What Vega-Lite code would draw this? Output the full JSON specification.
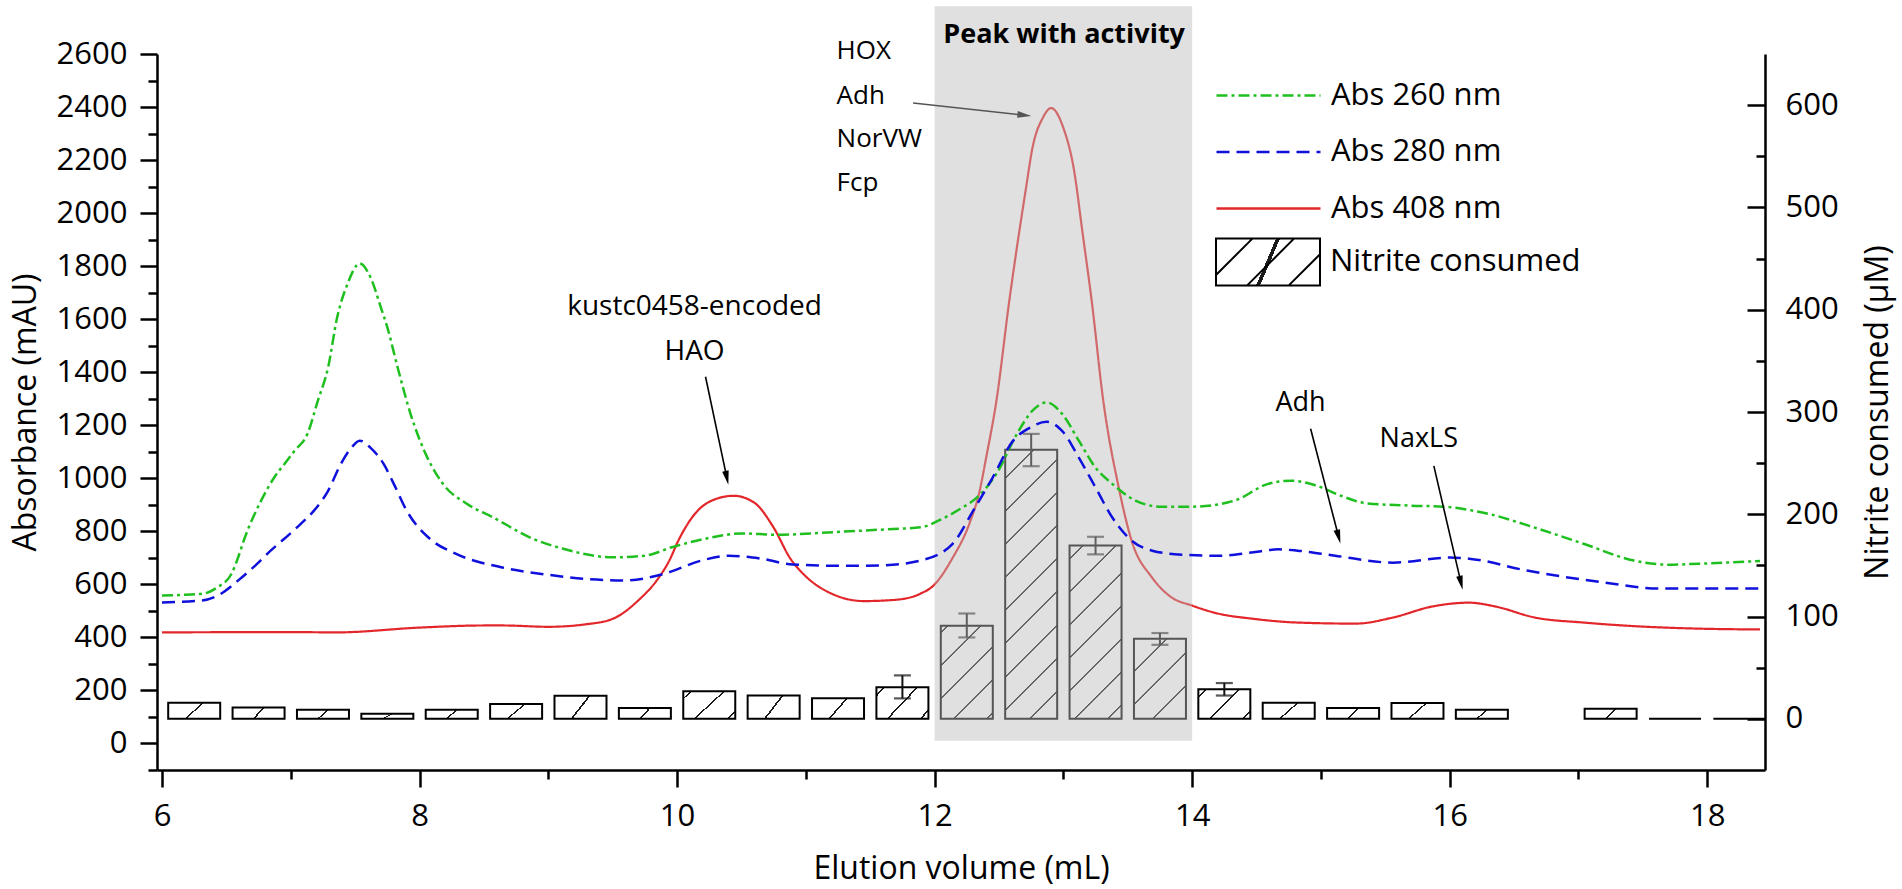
{
  "$schema": "https://vega.github.io/schema/vega-lite/v6.json",
  "description": "Size-exclusion elution profile with nitrite consumption bars",
  "width": 1608,
  "height": 716,
  "autosize": {"type": "none"},
  "padding": {"left": 157, "top": 54, "right": 137, "bottom": 119},
  "background": "white",
  "config": {
    "font": "Open Sans",
    "view": {"stroke": null},
    "axis": {
      "grid": false,
      "labelFont": "Open Sans",
      "labelFontSize": 31,
      "labelColor": "#000",
      "titleFont": "Open Sans",
      "titleFontSize": 32,
      "titleFontWeight": "normal",
      "titleColor": "#000",
      "domainColor": "#000",
      "domainWidth": 2.5,
      "tickColor": "#000",
      "tickWidth": 2.5,
      "labelOverlap": false,
      "labelFlush": false,
      "labelBound": false
    },
    "legend": {"labelFont": "Open Sans", "labelFontSize": 31, "labelColor": "#000", "labelLimit": 0}
  },
  "datasets": {
    "abs": [
      {"v": 6.0, "a": 558, "s": "Abs 260 nm"},
      {"v": 6.15, "a": 560, "s": "Abs 260 nm"},
      {"v": 6.33, "a": 566, "s": "Abs 260 nm"},
      {"v": 6.43, "a": 589, "s": "Abs 260 nm"},
      {"v": 6.54, "a": 640, "s": "Abs 260 nm"},
      {"v": 6.59, "a": 700, "s": "Abs 260 nm"},
      {"v": 6.64, "a": 772, "s": "Abs 260 nm"},
      {"v": 6.77, "a": 916, "s": "Abs 260 nm"},
      {"v": 6.87, "a": 1002, "s": "Abs 260 nm"},
      {"v": 6.96, "a": 1060, "s": "Abs 260 nm"},
      {"v": 7.03, "a": 1104, "s": "Abs 260 nm"},
      {"v": 7.13, "a": 1168, "s": "Abs 260 nm"},
      {"v": 7.21, "a": 1292, "s": "Abs 260 nm"},
      {"v": 7.29, "a": 1418, "s": "Abs 260 nm"},
      {"v": 7.36, "a": 1606, "s": "Abs 260 nm"},
      {"v": 7.44, "a": 1732, "s": "Abs 260 nm"},
      {"v": 7.535, "a": 1810, "s": "Abs 260 nm"},
      {"v": 7.62, "a": 1757, "s": "Abs 260 nm"},
      {"v": 7.7, "a": 1644, "s": "Abs 260 nm"},
      {"v": 7.75, "a": 1569, "s": "Abs 260 nm"},
      {"v": 7.83, "a": 1418, "s": "Abs 260 nm"},
      {"v": 7.93, "a": 1243, "s": "Abs 260 nm"},
      {"v": 8.06, "a": 1079, "s": "Abs 260 nm"},
      {"v": 8.18, "a": 980, "s": "Abs 260 nm"},
      {"v": 8.37, "a": 903, "s": "Abs 260 nm"},
      {"v": 8.57, "a": 853, "s": "Abs 260 nm"},
      {"v": 8.88, "a": 772, "s": "Abs 260 nm"},
      {"v": 9.11, "a": 735, "s": "Abs 260 nm"},
      {"v": 9.5, "a": 702, "s": "Abs 260 nm"},
      {"v": 9.75, "a": 708, "s": "Abs 260 nm"},
      {"v": 9.96, "a": 740, "s": "Abs 260 nm"},
      {"v": 10.27, "a": 777, "s": "Abs 260 nm"},
      {"v": 10.5, "a": 792, "s": "Abs 260 nm"},
      {"v": 10.78, "a": 787, "s": "Abs 260 nm"},
      {"v": 11.17, "a": 796, "s": "Abs 260 nm"},
      {"v": 11.68, "a": 809, "s": "Abs 260 nm"},
      {"v": 11.89, "a": 815, "s": "Abs 260 nm"},
      {"v": 12.05, "a": 845, "s": "Abs 260 nm"},
      {"v": 12.2, "a": 885, "s": "Abs 260 nm"},
      {"v": 12.33, "a": 928, "s": "Abs 260 nm"},
      {"v": 12.48, "a": 1017, "s": "Abs 260 nm"},
      {"v": 12.64, "a": 1168, "s": "Abs 260 nm"},
      {"v": 12.76, "a": 1255, "s": "Abs 260 nm"},
      {"v": 12.87, "a": 1286, "s": "Abs 260 nm"},
      {"v": 12.99, "a": 1243, "s": "Abs 260 nm"},
      {"v": 13.12, "a": 1142, "s": "Abs 260 nm"},
      {"v": 13.25, "a": 1040, "s": "Abs 260 nm"},
      {"v": 13.38, "a": 979, "s": "Abs 260 nm"},
      {"v": 13.56, "a": 916, "s": "Abs 260 nm"},
      {"v": 13.76, "a": 893, "s": "Abs 260 nm"},
      {"v": 14.0, "a": 893, "s": "Abs 260 nm"},
      {"v": 14.33, "a": 916, "s": "Abs 260 nm"},
      {"v": 14.59, "a": 979, "s": "Abs 260 nm"},
      {"v": 14.77, "a": 991, "s": "Abs 260 nm"},
      {"v": 14.95, "a": 975, "s": "Abs 260 nm"},
      {"v": 15.15, "a": 935, "s": "Abs 260 nm"},
      {"v": 15.35, "a": 906, "s": "Abs 260 nm"},
      {"v": 15.7, "a": 897, "s": "Abs 260 nm"},
      {"v": 15.95, "a": 893, "s": "Abs 260 nm"},
      {"v": 16.3, "a": 866, "s": "Abs 260 nm"},
      {"v": 16.66, "a": 814, "s": "Abs 260 nm"},
      {"v": 17.04, "a": 753, "s": "Abs 260 nm"},
      {"v": 17.43, "a": 690, "s": "Abs 260 nm"},
      {"v": 17.7, "a": 674, "s": "Abs 260 nm"},
      {"v": 17.94, "a": 678, "s": "Abs 260 nm"},
      {"v": 18.41, "a": 688, "s": "Abs 260 nm"},
      {"v": 6.0, "a": 532, "s": "Abs 280 nm"},
      {"v": 6.31, "a": 539, "s": "Abs 280 nm"},
      {"v": 6.46, "a": 565, "s": "Abs 280 nm"},
      {"v": 6.59, "a": 614, "s": "Abs 280 nm"},
      {"v": 6.74, "a": 678, "s": "Abs 280 nm"},
      {"v": 6.85, "a": 730, "s": "Abs 280 nm"},
      {"v": 6.95, "a": 772, "s": "Abs 280 nm"},
      {"v": 7.08, "a": 829, "s": "Abs 280 nm"},
      {"v": 7.18, "a": 878, "s": "Abs 280 nm"},
      {"v": 7.29, "a": 953, "s": "Abs 280 nm"},
      {"v": 7.39, "a": 1055, "s": "Abs 280 nm"},
      {"v": 7.47, "a": 1115, "s": "Abs 280 nm"},
      {"v": 7.535, "a": 1142, "s": "Abs 280 nm"},
      {"v": 7.62, "a": 1115, "s": "Abs 280 nm"},
      {"v": 7.72, "a": 1055, "s": "Abs 280 nm"},
      {"v": 7.8, "a": 979, "s": "Abs 280 nm"},
      {"v": 7.9, "a": 878, "s": "Abs 280 nm"},
      {"v": 8.08, "a": 772, "s": "Abs 280 nm"},
      {"v": 8.28, "a": 716, "s": "Abs 280 nm"},
      {"v": 8.65, "a": 663, "s": "Abs 280 nm"},
      {"v": 9.0, "a": 636, "s": "Abs 280 nm"},
      {"v": 9.3, "a": 620, "s": "Abs 280 nm"},
      {"v": 9.6, "a": 615, "s": "Abs 280 nm"},
      {"v": 9.9, "a": 640, "s": "Abs 280 nm"},
      {"v": 10.19, "a": 690, "s": "Abs 280 nm"},
      {"v": 10.4, "a": 708, "s": "Abs 280 nm"},
      {"v": 10.65, "a": 697, "s": "Abs 280 nm"},
      {"v": 10.9, "a": 675, "s": "Abs 280 nm"},
      {"v": 11.3, "a": 670, "s": "Abs 280 nm"},
      {"v": 11.6, "a": 672, "s": "Abs 280 nm"},
      {"v": 11.89, "a": 690, "s": "Abs 280 nm"},
      {"v": 12.14, "a": 753, "s": "Abs 280 nm"},
      {"v": 12.3, "a": 878, "s": "Abs 280 nm"},
      {"v": 12.45, "a": 1002, "s": "Abs 280 nm"},
      {"v": 12.61, "a": 1142, "s": "Abs 280 nm"},
      {"v": 12.74, "a": 1191, "s": "Abs 280 nm"},
      {"v": 12.87, "a": 1213, "s": "Abs 280 nm"},
      {"v": 12.99, "a": 1179, "s": "Abs 280 nm"},
      {"v": 13.12, "a": 1078, "s": "Abs 280 nm"},
      {"v": 13.25, "a": 965, "s": "Abs 280 nm"},
      {"v": 13.38, "a": 852, "s": "Abs 280 nm"},
      {"v": 13.53, "a": 765, "s": "Abs 280 nm"},
      {"v": 13.69, "a": 727, "s": "Abs 280 nm"},
      {"v": 13.92, "a": 712, "s": "Abs 280 nm"},
      {"v": 14.2, "a": 708, "s": "Abs 280 nm"},
      {"v": 14.46, "a": 720, "s": "Abs 280 nm"},
      {"v": 14.67, "a": 732, "s": "Abs 280 nm"},
      {"v": 14.82, "a": 727, "s": "Abs 280 nm"},
      {"v": 15.11, "a": 708, "s": "Abs 280 nm"},
      {"v": 15.56, "a": 682, "s": "Abs 280 nm"},
      {"v": 16.0, "a": 701, "s": "Abs 280 nm"},
      {"v": 16.15, "a": 697, "s": "Abs 280 nm"},
      {"v": 16.6, "a": 652, "s": "Abs 280 nm"},
      {"v": 17.2, "a": 607, "s": "Abs 280 nm"},
      {"v": 17.64, "a": 584, "s": "Abs 280 nm"},
      {"v": 18.41, "a": 584, "s": "Abs 280 nm"},
      {"v": 6.0, "a": 419, "s": "Abs 408 nm"},
      {"v": 7.0, "a": 420, "s": "Abs 408 nm"},
      {"v": 7.36, "a": 419, "s": "Abs 408 nm"},
      {"v": 8.0, "a": 437, "s": "Abs 408 nm"},
      {"v": 8.5, "a": 445, "s": "Abs 408 nm"},
      {"v": 8.65, "a": 445, "s": "Abs 408 nm"},
      {"v": 9.0, "a": 440, "s": "Abs 408 nm"},
      {"v": 9.3, "a": 450, "s": "Abs 408 nm"},
      {"v": 9.5, "a": 470, "s": "Abs 408 nm"},
      {"v": 9.7, "a": 540, "s": "Abs 408 nm"},
      {"v": 9.85, "a": 620, "s": "Abs 408 nm"},
      {"v": 9.94, "a": 690, "s": "Abs 408 nm"},
      {"v": 10.01, "a": 765, "s": "Abs 408 nm"},
      {"v": 10.14, "a": 867, "s": "Abs 408 nm"},
      {"v": 10.27, "a": 916, "s": "Abs 408 nm"},
      {"v": 10.44, "a": 934, "s": "Abs 408 nm"},
      {"v": 10.6, "a": 908, "s": "Abs 408 nm"},
      {"v": 10.75, "a": 814, "s": "Abs 408 nm"},
      {"v": 10.88, "a": 697, "s": "Abs 408 nm"},
      {"v": 11.0, "a": 630, "s": "Abs 408 nm"},
      {"v": 11.2, "a": 565, "s": "Abs 408 nm"},
      {"v": 11.45, "a": 537, "s": "Abs 408 nm"},
      {"v": 11.7, "a": 542, "s": "Abs 408 nm"},
      {"v": 11.89, "a": 565, "s": "Abs 408 nm"},
      {"v": 11.99, "a": 595, "s": "Abs 408 nm"},
      {"v": 12.14, "a": 700, "s": "Abs 408 nm"},
      {"v": 12.27, "a": 829, "s": "Abs 408 nm"},
      {"v": 12.35, "a": 953, "s": "Abs 408 nm"},
      {"v": 12.4, "a": 1077, "s": "Abs 408 nm"},
      {"v": 12.48, "a": 1292, "s": "Abs 408 nm"},
      {"v": 12.58, "a": 1669, "s": "Abs 408 nm"},
      {"v": 12.71, "a": 2095, "s": "Abs 408 nm"},
      {"v": 12.76, "a": 2246, "s": "Abs 408 nm"},
      {"v": 12.84, "a": 2359, "s": "Abs 408 nm"},
      {"v": 12.905, "a": 2396, "s": "Abs 408 nm"},
      {"v": 13.0, "a": 2321, "s": "Abs 408 nm"},
      {"v": 13.08, "a": 2170, "s": "Abs 408 nm"},
      {"v": 13.15, "a": 1922, "s": "Abs 408 nm"},
      {"v": 13.22, "a": 1669, "s": "Abs 408 nm"},
      {"v": 13.31, "a": 1292, "s": "Abs 408 nm"},
      {"v": 13.43, "a": 965, "s": "Abs 408 nm"},
      {"v": 13.53, "a": 765, "s": "Abs 408 nm"},
      {"v": 13.69, "a": 625, "s": "Abs 408 nm"},
      {"v": 13.84, "a": 551, "s": "Abs 408 nm"},
      {"v": 14.0, "a": 520, "s": "Abs 408 nm"},
      {"v": 14.2, "a": 490, "s": "Abs 408 nm"},
      {"v": 14.46, "a": 471, "s": "Abs 408 nm"},
      {"v": 14.82, "a": 456, "s": "Abs 408 nm"},
      {"v": 15.27, "a": 452, "s": "Abs 408 nm"},
      {"v": 15.56, "a": 475, "s": "Abs 408 nm"},
      {"v": 15.86, "a": 516, "s": "Abs 408 nm"},
      {"v": 16.15, "a": 531, "s": "Abs 408 nm"},
      {"v": 16.36, "a": 516, "s": "Abs 408 nm"},
      {"v": 16.66, "a": 475, "s": "Abs 408 nm"},
      {"v": 17.04, "a": 456, "s": "Abs 408 nm"},
      {"v": 17.49, "a": 441, "s": "Abs 408 nm"},
      {"v": 17.94, "a": 433, "s": "Abs 408 nm"},
      {"v": 18.41, "a": 430, "s": "Abs 408 nm"}
    ],
    "bars": [
      {"v": 6.25, "n": 15.7},
      {"v": 6.75, "n": 11},
      {"v": 7.25, "n": 9},
      {"v": 7.75, "n": 5},
      {"v": 8.25, "n": 9},
      {"v": 8.75, "n": 14.5},
      {"v": 9.25, "n": 22.5},
      {"v": 9.75, "n": 10.7},
      {"v": 10.25, "n": 27},
      {"v": 10.75, "n": 22.8},
      {"v": 11.25, "n": 20.2},
      {"v": 11.75, "n": 31},
      {"v": 12.25, "n": 91},
      {"v": 12.75, "n": 263},
      {"v": 13.25, "n": 169.6},
      {"v": 13.75, "n": 78.3},
      {"v": 14.25, "n": 29},
      {"v": 14.75, "n": 15.7},
      {"v": 15.25, "n": 10.6},
      {"v": 15.75, "n": 15.6},
      {"v": 16.25, "n": 9},
      {"v": 17.25, "n": 10},
      {"v": 17.75, "n": 0},
      {"v": 18.25, "n": 0}
    ],
    "err": [
      {"v": 11.75, "n": 20, "n2": 42.5},
      {"v": 12.25, "n": 79.6, "n2": 103},
      {"v": 12.75, "n": 247, "n2": 278.6},
      {"v": 13.25, "n": 160.8, "n2": 178},
      {"v": 13.75, "n": 72.4, "n2": 83.9},
      {"v": 14.25, "n": 22.8, "n2": 35}
    ]
  },
  "encoding": {
    "x": {
      "field": "v",
      "type": "quantitative",
      "scale": {"domain": [6, 18.41], "nice": false, "zero": false},
      "axis": {
        "title": "Elution volume (mL)",
        "values": [6, 7, 8, 9, 10, 11, 12, 13, 14, 15, 16, 17, 18],
        "labelExpr": "datum.value % 2 === 0 ? datum.label : ''",
        "tickSize": {"condition": {"test": "datum.value % 2 !== 0", "value": 9}, "value": 17},
        "labelPadding": 14,
        "titleX": 804,
        "titleY": 108,
        "titleBaseline": "alphabetic"
      }
    }
  },
  "layer": [
    {
      "encoding": {
        "y": {
          "field": "n",
          "type": "quantitative",
          "scale": {"domain": [-50, 650], "nice": false, "zero": false},
          "axis": {
            "orient": "right",
            "title": "Nitrite consumed (µM)",
            "values": [0, 50, 100, 150, 200, 250, 300, 350, 400, 450, 500, 550, 600],
            "labelExpr": "datum.value % 100 === 0 ? datum.label : ''",
            "tickSize": {"condition": {"test": "datum.value % 100 !== 0", "value": -9}, "value": -18},
            "labelPadding": 38,
            "titleAngle": 270,
            "titleX": 122,
            "titleY": 358,
            "titleAlign": "center",
            "titleBaseline": "alphabetic"
          }
        }
      },
      "layer": [
        {
          "data": {"name": "bars"},
          "mark": {"type": "bar", "width": 52, "clip": true, "strokeWidth": 2, "fillOpacity": 1},
          "encoding": {
            "y2": {"datum": 0},
            "stroke": {
              "datum": "Nitrite consumed",
              "scale": {"range": ["#000000"]},
              "legend": {
                "orient": "none",
                "legendX": 1058,
                "legendY": 183,
                "title": null,
                "padding": 0,
                "clipHeight": 50,
                "symbolType": "M-1,-0.45H1V0.45H-1Z M-1,0.25L-0.3,-0.45 M-0.4,0.45L0.5,-0.45 M0.4,0.45L1,-0.15",
                "symbolSize": 10816,
                "symbolFillColor": "#ffffff",
                "symbolStrokeWidth": 2,
                "labelOffset": 9
              }
            },
            "fill": {
              "condition": [
                {"test": "datum.n > 200", "value": {"gradient": "linear", "x1": 0, "y1": 0, "x2": 0.2229, "y2": 1.1528, "stops": [
                  {"offset": 0, "color": "#ffffff"},
                  {"offset": 0.0857, "color": "#ffffff"}, {"offset": 0.0857, "color": "#1a1a1a"}, {"offset": 0.0919, "color": "#1a1a1a"}, {"offset": 0.0919, "color": "#ffffff"},
                  {"offset": 0.1885, "color": "#ffffff"}, {"offset": 0.1885, "color": "#1a1a1a"}, {"offset": 0.1947, "color": "#1a1a1a"}, {"offset": 0.1947, "color": "#ffffff"},
                  {"offset": 0.2913, "color": "#ffffff"}, {"offset": 0.2913, "color": "#1a1a1a"}, {"offset": 0.2975, "color": "#1a1a1a"}, {"offset": 0.2975, "color": "#ffffff"},
                  {"offset": 0.3941, "color": "#ffffff"}, {"offset": 0.3941, "color": "#1a1a1a"}, {"offset": 0.4003, "color": "#1a1a1a"}, {"offset": 0.4003, "color": "#ffffff"},
                  {"offset": 0.4969, "color": "#ffffff"}, {"offset": 0.4969, "color": "#1a1a1a"}, {"offset": 0.5031, "color": "#1a1a1a"}, {"offset": 0.5031, "color": "#ffffff"},
                  {"offset": 0.5997, "color": "#ffffff"}, {"offset": 0.5997, "color": "#1a1a1a"}, {"offset": 0.6059, "color": "#1a1a1a"}, {"offset": 0.6059, "color": "#ffffff"},
                  {"offset": 0.7025, "color": "#ffffff"}, {"offset": 0.7025, "color": "#1a1a1a"}, {"offset": 0.7087, "color": "#1a1a1a"}, {"offset": 0.7087, "color": "#ffffff"},
                  {"offset": 0.8053, "color": "#ffffff"}, {"offset": 0.8053, "color": "#1a1a1a"}, {"offset": 0.8115, "color": "#1a1a1a"}, {"offset": 0.8115, "color": "#ffffff"},
                  {"offset": 0.9081, "color": "#ffffff"}, {"offset": 0.9081, "color": "#1a1a1a"}, {"offset": 0.9143, "color": "#1a1a1a"}, {"offset": 0.9143, "color": "#ffffff"},
                  {"offset": 1, "color": "#ffffff"}]}},
                {"test": "datum.n > 120", "value": {"gradient": "linear", "x1": 0, "y1": 0, "x2": 0.3585, "y2": 1.1928, "stops": [
                  {"offset": 0, "color": "#ffffff"},
                  {"offset": 0.0556, "color": "#ffffff"}, {"offset": 0.0556, "color": "#1a1a1a"}, {"offset": 0.0644, "color": "#1a1a1a"}, {"offset": 0.0644, "color": "#ffffff"},
                  {"offset": 0.2023, "color": "#ffffff"}, {"offset": 0.2023, "color": "#1a1a1a"}, {"offset": 0.2111, "color": "#1a1a1a"}, {"offset": 0.2111, "color": "#ffffff"},
                  {"offset": 0.3489, "color": "#ffffff"}, {"offset": 0.3489, "color": "#1a1a1a"}, {"offset": 0.3577, "color": "#1a1a1a"}, {"offset": 0.3577, "color": "#ffffff"},
                  {"offset": 0.4956, "color": "#ffffff"}, {"offset": 0.4956, "color": "#1a1a1a"}, {"offset": 0.5044, "color": "#1a1a1a"}, {"offset": 0.5044, "color": "#ffffff"},
                  {"offset": 0.6423, "color": "#ffffff"}, {"offset": 0.6423, "color": "#1a1a1a"}, {"offset": 0.6511, "color": "#1a1a1a"}, {"offset": 0.6511, "color": "#ffffff"},
                  {"offset": 0.7889, "color": "#ffffff"}, {"offset": 0.7889, "color": "#1a1a1a"}, {"offset": 0.7977, "color": "#1a1a1a"}, {"offset": 0.7977, "color": "#ffffff"},
                  {"offset": 0.9356, "color": "#ffffff"}, {"offset": 0.9356, "color": "#1a1a1a"}, {"offset": 0.9444, "color": "#1a1a1a"}, {"offset": 0.9444, "color": "#ffffff"},
                  {"offset": 1, "color": "#ffffff"}]}},
                {"test": "datum.n > 85", "value": {"gradient": "linear", "x1": 0, "y1": 0, "x2": 0.664, "y2": 1.188, "stops": [
                  {"offset": 0, "color": "#ffffff"},
                  {"offset": 0.0379, "color": "#ffffff"}, {"offset": 0.0379, "color": "#1a1a1a"}, {"offset": 0.0517, "color": "#1a1a1a"}, {"offset": 0.0517, "color": "#ffffff"},
                  {"offset": 0.2655, "color": "#ffffff"}, {"offset": 0.2655, "color": "#1a1a1a"}, {"offset": 0.2793, "color": "#1a1a1a"}, {"offset": 0.2793, "color": "#ffffff"},
                  {"offset": 0.4931, "color": "#ffffff"}, {"offset": 0.4931, "color": "#1a1a1a"}, {"offset": 0.5069, "color": "#1a1a1a"}, {"offset": 0.5069, "color": "#ffffff"},
                  {"offset": 0.7207, "color": "#ffffff"}, {"offset": 0.7207, "color": "#1a1a1a"}, {"offset": 0.7345, "color": "#1a1a1a"}, {"offset": 0.7345, "color": "#ffffff"},
                  {"offset": 0.9483, "color": "#ffffff"}, {"offset": 0.9483, "color": "#1a1a1a"}, {"offset": 0.9621, "color": "#1a1a1a"}, {"offset": 0.9621, "color": "#ffffff"},
                  {"offset": 1, "color": "#ffffff"}]}},
                {"test": "datum.n > 50", "value": {"gradient": "linear", "x1": 0, "y1": 0, "x2": 0.754, "y2": 1.16, "stops": [
                  {"offset": 0, "color": "#ffffff"},
                  {"offset": 0.2424, "color": "#ffffff"}, {"offset": 0.2424, "color": "#1a1a1a"}, {"offset": 0.2576, "color": "#1a1a1a"}, {"offset": 0.2576, "color": "#ffffff"},
                  {"offset": 0.4924, "color": "#ffffff"}, {"offset": 0.4924, "color": "#1a1a1a"}, {"offset": 0.5076, "color": "#1a1a1a"}, {"offset": 0.5076, "color": "#ffffff"},
                  {"offset": 0.7424, "color": "#ffffff"}, {"offset": 0.7424, "color": "#1a1a1a"}, {"offset": 0.7576, "color": "#1a1a1a"}, {"offset": 0.7576, "color": "#ffffff"},
                  {"offset": 1, "color": "#ffffff"}]}},
                {"test": "datum.n > 24.5", "value": {"gradient": "linear", "x1": 0, "y1": 0, "x2": 1.183, "y2": 0.683, "stops": [
                  {"offset": 0, "color": "#ffffff"},
                  {"offset": 0.0858, "color": "#ffffff"}, {"offset": 0.0858, "color": "#1a1a1a"}, {"offset": 0.1102, "color": "#1a1a1a"}, {"offset": 0.1102, "color": "#ffffff"},
                  {"offset": 0.4878, "color": "#ffffff"}, {"offset": 0.4878, "color": "#1a1a1a"}, {"offset": 0.5122, "color": "#1a1a1a"}, {"offset": 0.5122, "color": "#ffffff"},
                  {"offset": 0.8898, "color": "#ffffff"}, {"offset": 0.8898, "color": "#1a1a1a"}, {"offset": 0.9142, "color": "#1a1a1a"}, {"offset": 0.9142, "color": "#ffffff"},
                  {"offset": 1, "color": "#ffffff"}]}},
                {"test": "datum.n > 13", "value": {"gradient": "linear", "x1": 0, "y1": 0, "x2": 1.202, "y2": 0.416, "stops": [
                  {"offset": 0, "color": "#ffffff"},
                  {"offset": 0.4857, "color": "#ffffff"}, {"offset": 0.4857, "color": "#1a1a1a"}, {"offset": 0.5143, "color": "#1a1a1a"}, {"offset": 0.5143, "color": "#ffffff"},
                  {"offset": 1, "color": "#ffffff"}]}}
              ],
              "value": {"gradient": "linear", "x1": 0, "y1": 0, "x2": 1.15, "y2": 0.221, "stops": [
                {"offset": 0, "color": "#ffffff"},
                {"offset": 0.4839, "color": "#ffffff"}, {"offset": 0.4839, "color": "#1a1a1a"}, {"offset": 0.5161, "color": "#1a1a1a"}, {"offset": 0.5161, "color": "#ffffff"},
                {"offset": 1, "color": "#ffffff"}]}
            }
          }
        },
        {
          "data": {"name": "err"},
          "mark": {
            "type": "errorbar",
            "ticks": {"size": 17, "thickness": 2.2, "color": "#111111"},
            "rule": {"strokeWidth": 2, "color": "#111111"}
          },
          "encoding": {"y2": {"field": "n2"}}
        }
      ]
    },
    {
      "encoding": {
        "y": {
          "field": "a",
          "type": "quantitative",
          "scale": {"domain": [-100, 2600], "nice": false, "zero": false},
          "axis": {
            "orient": "left",
            "title": "Absorbance (mAU)",
            "format": "d",
            "values": [-100, 0, 100, 200, 300, 400, 500, 600, 700, 800, 900, 1000, 1100, 1200, 1300, 1400, 1500, 1600, 1700, 1800, 1900, 2000, 2100, 2200, 2300, 2400, 2500, 2600],
            "labelExpr": "datum.value % 200 === 0 && datum.value >= 0 ? datum.label : ''",
            "tickSize": {"condition": {"test": "datum.value % 200 !== 0", "value": 9}, "value": 17},
            "labelPadding": 13,
            "titleAngle": 270,
            "titleX": -122,
            "titleY": 358,
            "titleAlign": "center",
            "titleBaseline": "alphabetic"
          }
        }
      },
      "layer": [
        {
          "data": {"name": "abs"},
          "transform": [{"filter": "datum.s === 'Abs 408 nm'"}],
          "mark": {"type": "line", "interpolate": "monotone", "strokeWidth": 2.2},
          "encoding": {
            "color": {
              "field": "s", "type": "nominal",
              "scale": {"domain": ["Abs 260 nm", "Abs 280 nm", "Abs 408 nm"], "range": ["#1fbf1f", "#1010dd", "#e3262a"]},
              "legend": {"orient": "none", "legendX": 1058, "legendY": 26, "title": null, "padding": 0, "clipHeight": 31, "symbolType": "stroke", "symbolSize": 10816, "symbolStrokeWidth": 2.5, "labelOffset": 9, "rowPadding": 24.5}
            },
            "strokeDash": {
              "field": "s", "type": "nominal",
              "scale": {"domain": ["Abs 260 nm", "Abs 280 nm", "Abs 408 nm"], "range": [[11, 4, 3, 4], [13, 7], [1, 0]]},
              "legend": {"orient": "none", "legendX": 1058, "legendY": 26, "title": null, "padding": 0, "clipHeight": 31, "symbolType": "stroke", "symbolSize": 10816, "symbolStrokeWidth": 2.5, "labelOffset": 9, "rowPadding": 24.5}
            }
          }
        },
        {
          "data": {"values": [{"v": 12, "v2": 14, "a": 10, "a2": 2780}]},
          "mark": {"type": "rect", "fill": "#bbbbbb", "opacity": 0.455},
          "encoding": {"x2": {"field": "v2"}, "y2": {"field": "a2"}}
        },
        {
          "data": {"name": "abs"},
          "transform": [{"filter": "datum.s !== 'Abs 408 nm'"}],
          "mark": {"type": "line", "interpolate": "monotone", "strokeWidth": 2.5},
          "encoding": {
            "color": {
              "field": "s", "type": "nominal",
              "scale": {"domain": ["Abs 260 nm", "Abs 280 nm", "Abs 408 nm"], "range": ["#1fbf1f", "#1010dd", "#e3262a"]},
              "legend": {"orient": "none", "legendX": 1058, "legendY": 26, "title": null, "padding": 0, "clipHeight": 31, "symbolType": "stroke", "symbolSize": 10816, "symbolStrokeWidth": 2.5, "labelOffset": 9, "rowPadding": 24.5}
            },
            "strokeDash": {
              "field": "s", "type": "nominal",
              "scale": {"domain": ["Abs 260 nm", "Abs 280 nm", "Abs 408 nm"], "range": [[11, 4, 3, 4], [13, 7], [1, 0]]},
              "legend": {"orient": "none", "legendX": 1058, "legendY": 26, "title": null, "padding": 0, "clipHeight": 31, "symbolType": "stroke", "symbolSize": 10816, "symbolStrokeWidth": 2.5, "labelOffset": 9, "rowPadding": 24.5}
            }
          }
        },
        {
          "data": {"values": [{"v": 11.833, "a": 2415, "v2": 12.684, "a2": 2370}]},
          "mark": {"type": "rule", "strokeWidth": 1.6, "color": "#555555"},
          "encoding": {"x2": {"field": "v2"}, "y2": {"field": "a2"}}
        },
        {
          "data": {"values": [
            {"v": 10.221, "a": 1383, "v2": 10.384, "a2": 1008},
            {"v": 14.92, "a": 1187, "v2": 15.134, "a2": 786},
            {"v": 15.877, "a": 1047, "v2": 16.085, "a2": 612}
          ]},
          "mark": {"type": "rule", "strokeWidth": 1.6, "color": "#000000"},
          "encoding": {"x2": {"field": "v2"}, "y2": {"field": "a2"}}
        },
        {
          "data": {"values": [{"v": 12.684, "a": 2370}]},
          "mark": {"type": "point", "shape": "M0,-1L0.38,0.6L-0.38,0.6Z", "size": 306, "angle": 96.2, "filled": true, "color": "#555555", "opacity": 1, "strokeWidth": 0},
          "encoding": {}
        },
        {
          "data": {"values": [{"v": 10.384, "a": 1008}]},
          "mark": {"type": "point", "shape": "M0,-1L0.38,0.6L-0.38,0.6Z", "size": 306, "angle": 167.9, "filled": true, "color": "#000000", "opacity": 1, "strokeWidth": 0},
          "encoding": {}
        },
        {
          "data": {"values": [{"v": 15.134, "a": 786}]},
          "mark": {"type": "point", "shape": "M0,-1L0.38,0.6L-0.38,0.6Z", "size": 306, "angle": 165.4, "filled": true, "color": "#000000", "opacity": 1, "strokeWidth": 0},
          "encoding": {}
        },
        {
          "data": {"values": [{"v": 16.085, "a": 612}]},
          "mark": {"type": "point", "shape": "M0,-1L0.38,0.6L-0.38,0.6Z", "size": 306, "angle": 166.8, "filled": true, "color": "#000000", "opacity": 1, "strokeWidth": 0},
          "encoding": {}
        },
        {
          "data": {"values": [{"v": 13.006, "a": 2671, "t": "Peak with activity"}]},
          "mark": {"type": "text", "font": "Open Sans", "fontSize": 27, "fontWeight": "bold", "align": "center", "baseline": "middle", "color": "#000000"},
          "encoding": {"text": {"field": "t"}}
        },
        {
          "data": {"values": [
            {"v": 11.239, "a": 2611, "t": "HOX"},
            {"v": 11.239, "a": 2442, "t": "Adh"},
            {"v": 11.239, "a": 2280, "t": "NorVW"},
            {"v": 11.239, "a": 2114, "t": "Fcp"}
          ]},
          "mark": {"type": "text", "font": "Open Sans", "fontSize": 26, "align": "left", "baseline": "middle", "color": "#000000"},
          "encoding": {"text": {"field": "t"}}
        },
        {
          "data": {"values": [
            {"v": 10.136, "a": 1647, "t": "kustc0458-encoded"},
            {"v": 10.136, "a": 1477, "t": "HAO"}
          ]},
          "mark": {"type": "text", "font": "Open Sans", "fontSize": 28, "align": "center", "baseline": "middle", "color": "#000000"},
          "encoding": {"text": {"field": "t"}}
        },
        {
          "data": {"values": [
            {"v": 14.842, "a": 1285, "t": "Adh"},
            {"v": 15.76, "a": 1150, "t": "NaxLS"}
          ]},
          "mark": {"type": "text", "font": "Open Sans", "fontSize": 27, "align": "center", "baseline": "middle", "color": "#000000"},
          "encoding": {"text": {"field": "t"}}
        }
      ]
    }
  ],
  "resolve": {"scale": {"y": "independent"}}
}
